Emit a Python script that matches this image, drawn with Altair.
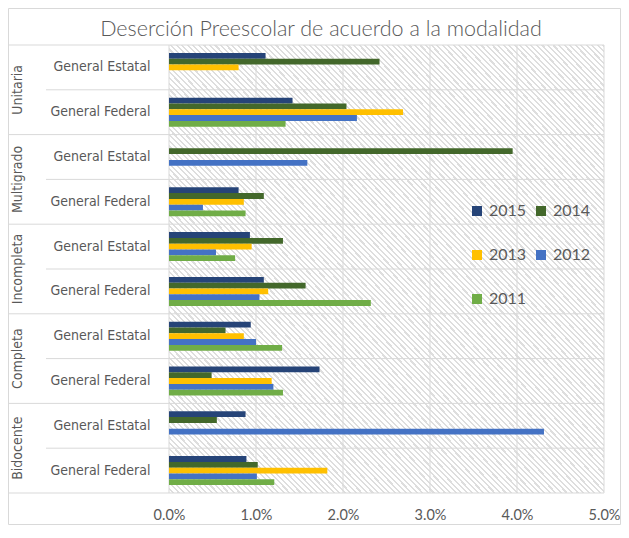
import altair as alt
import pandas as pd

# ---------------- data ----------------
groups = ["Unitaria", "Multigrado", "Incompleta", "Completa", "Bidocente"]
subs = ["General Estatal", "General Federal"]
years = ["2015", "2014", "2013", "2012", "2011"]
# values in percent, order: Unitaria GE, Unitaria GF, Multigrado GE, Multigrado GF, ...
v2015 = [1.11, 1.42, 0.00, 0.80, 0.93, 1.09, 0.94, 1.73, 0.88, 0.89]
v2014 = [2.42, 2.04, 3.95, 1.09, 1.31, 1.57, 0.65, 0.49, 0.55, 1.02]
v2013 = [0.80, 2.69, 0.00, 0.86, 0.95, 1.14, 0.86, 1.18, 0.00, 1.82]
v2012 = [0.00, 2.16, 1.59, 0.39, 0.54, 1.04, 1.00, 1.20, 4.31, 1.01]
v2011 = [0.00, 1.34, 0.00, 0.88, 0.76, 2.32, 1.30, 1.31, 0.00, 1.21]
colors = ["#264478", "#43682b", "#ffc000", "#4472c4", "#70ad47"]
x_ticks = [0, 0.01, 0.02, 0.03, 0.04, 0.05]
title_text = "Deserción Preescolar de acuerdo a la modalidad"

series = [v2015, v2014, v2013, v2012, v2011]
cats = [f"{g}|{s}" for g in groups for s in subs]

rows = []
for i, c in enumerate(cats):
    for y, vals in zip(years, series):
        rows.append({"cat": c, "year": y, "value": vals[i] / 100})
df = pd.DataFrame(rows)

df_ge = pd.DataFrame({"cat": [f"{g}|{subs[0]}" for g in groups], "grp": groups})
df_gf = pd.DataFrame({"cat": [f"{g}|{subs[1]}" for g in groups]})
df_ticks = pd.DataFrame({"t": x_ticks})
one = pd.DataFrame({"a": [0], "title": [title_text]})

W, H = 435, 448
GRID = "#d9d9d9"
TXT = "#595959"
NARROW = "DejaVu Sans Condensed"

# hatch gradient for plot background
N = 157
stops = []
for k in range(N):
    a = round(k / N, 6)
    b = round((k + 0.62) / N, 6)
    c = round((k + 1) / N, 6)
    stops += [
        alt.GradientStop(offset=a, color="#ffffff"),
        alt.GradientStop(offset=b, color="#ffffff"),
        alt.GradientStop(offset=b, color="#dedede"),
        alt.GradientStop(offset=min(c, 1.0), color="#dedede"),
    ]
hatch = alt.LinearGradient(gradient="linear", stops=stops, x1=0, y1=1, x2=1, y2=0)

xscale = alt.Scale(domain=[0, 0.05], nice=False)
xaxis = alt.Axis(values=x_ticks, format=".1%", grid=False, ticks=False, domain=False,
                 labelFlush=False, labelPadding=15, labelFont="Lato", labelFontSize=14.5,
                 labelColor=TXT, title=None)
yscale = alt.Scale(domain=cats, paddingInner=0, paddingOuter=0)
yaxis = alt.Axis(labelExpr="split(datum.label, '|')[1]", ticks=False, domain=False, grid=False,
                 labelPadding=19, labelFont=NARROW, labelFontSize=14, labelColor=TXT,
                 labelLimit=0, title=None)
# slot order inside each category (blank slots keep the empty margin above/below the bars)
offset_domain = ["_a"] + years + ["_b"]

bg = alt.Chart(one).mark_rect(fill=hatch).encode(
    x=alt.value(0), x2=alt.value(W), y=alt.value(0), y2=alt.value(H))

vgrid = alt.Chart(df_ticks).mark_rule(color=GRID, strokeWidth=1).encode(
    x=alt.X("t:Q", scale=xscale, axis=xaxis), y=alt.value(0), y2=alt.value(H))

hr_ge = alt.Chart(df_ge).mark_rule(color=GRID, strokeWidth=1).encode(
    y=alt.Y("cat:N", bandPosition=0, scale=yscale, axis=yaxis),
    x=alt.value(-160.5), x2=alt.value(W))

hr_gf = alt.Chart(df_gf).mark_rule(color=GRID, strokeWidth=1).encode(
    y=alt.Y("cat:N", bandPosition=0, scale=yscale, axis=yaxis),
    x=alt.value(-123), x2=alt.value(W))

hr_bottom = alt.Chart(one).mark_rule(color=GRID, strokeWidth=1).encode(
    y=alt.value(H), x=alt.value(-160.5), x2=alt.value(W))

bars = alt.Chart(df).mark_bar().encode(
    y=alt.Y("cat:N", scale=yscale, axis=yaxis),
    yOffset=alt.YOffset("year:N", scale=alt.Scale(domain=offset_domain, paddingInner=0, paddingOuter=0.36)),
    x=alt.X("value:Q", scale=xscale, axis=xaxis),
    color=alt.Color("year:N", scale=alt.Scale(domain=years, range=colors),
                    legend=alt.Legend(orient="none", legendX=300, legendY=158, columns=2,
                                      direction="horizontal",
                                      symbolType="square", symbolSize=100, symbolStrokeWidth=0,
                                      labelFont="Lato", labelFontSize=16, labelColor=TXT,
                                      rowPadding=28, columnPadding=6, labelOffset=4,
                                      padding=0, title=None)),
)

grp_text = alt.Chart(df_ge).mark_text(angle=270, align="center", baseline="middle",
                                      font=NARROW, fontSize=14, color=TXT).encode(
    y=alt.Y("cat:N", bandPosition=1, scale=yscale, axis=yaxis),
    x=alt.value(-151),
    text="grp:N")

title = alt.Chart(one).mark_text(align="center", baseline="alphabetic", font="Lato",
                                 fontSize=21.5, fontWeight=300, color=TXT).encode(
    x=alt.value(152), y=alt.value(-9), text="title:N")

frame = alt.Chart(one).mark_rect(filled=False, stroke=GRID, strokeWidth=1).encode(
    x=alt.value(-160.5), x2=alt.value(451.5), y=alt.value(-36.5), y2=alt.value(479.5))

chart = alt.layer(bg, vgrid, hr_ge, hr_gf, hr_bottom, bars, grp_text, title, frame).properties(
    width=W, height=H,
    autosize=alt.AutoSizeParams(type="none"),
    padding={"left": 161, "top": 37, "right": 17, "bottom": 32},
    background="white",
).configure_view(strokeWidth=0)

chart.save("out.html", embed_options={"renderer": "svg", "actions": False})
